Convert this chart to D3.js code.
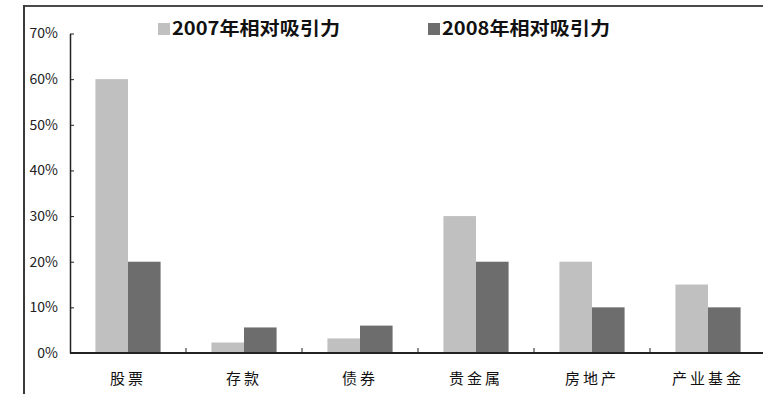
<!DOCTYPE html>
<html><head><meta charset="utf-8">
<script src="https://cdn.jsdelivr.net/npm/d3@7/dist/d3.min.js"></script>
<style>
html,body{margin:0;padding:0;background:#fff;}
svg{display:block;}
text{font-family:"Noto Sans CJK SC","Noto Sans",sans-serif;}
</style></head>
<body>
<svg id="c" width="763" height="394"></svg>
<script>
const categories = ["股票","存款","债券","贵金属","房地产","产业基金"];
const seriesNames = ["2007年相对吸引力","2008年相对吸引力"];
const values2007 = [0.60,0.023,0.032,0.30,0.20,0.15];
const values2008 = [0.20,0.056,0.060,0.20,0.10,0.10];
const yTicks = [0,0.1,0.2,0.3,0.4,0.5,0.6,0.7];
const colors = ["#c0c0c0","#6d6d6d"];

const svg = d3.select("#c");
// frame
svg.append("line").attr("x1",24).attr("x2",763).attr("y1",6).attr("y2",6).attr("stroke","#4a4a4a").attr("stroke-width",2);
svg.append("line").attr("x1",24).attr("x2",24).attr("y1",5).attr("y2",394).attr("stroke","#3a3a3a").attr("stroke-width",2);

const x0 = d3.scaleBand().domain(categories).range([70,766]).padding(0);
const x1 = d3.scaleBand().domain(seriesNames).range([0,x0.bandwidth()]).paddingInner(0).paddingOuter(0.78);
const y = d3.scaleLinear().domain([0,0.7]).range([353,33.5]);

// bars
const data = categories.map((c,i)=>({c, vals:[values2007[i],values2008[i]]}));
const g = svg.append("g");
data.forEach(d=>{
  d.vals.forEach((v,j)=>{
    g.append("rect")
      .attr("x",x0(d.c)+x1(seriesNames[j]))
      .attr("y",y(v))
      .attr("width",x1.bandwidth())
      .attr("height",y(0)-y(v))
      .attr("fill",colors[j]);
  });
});

// y axis
const yAxis = d3.axisLeft(y).tickValues(yTicks).tickFormat(d3.format(".0%")).tickSizeInner(-4).tickSizeOuter(0).tickPadding(12);
const ya = svg.append("g").attr("transform","translate(70,0)").call(yAxis);
ya.select(".domain").attr("stroke","#222").attr("stroke-width",1.5);
ya.selectAll(".tick line").attr("stroke","#222");
ya.selectAll(".tick text").attr("font-size",14).attr("fill","#222").attr("x",-12);

// x axis
const xa = svg.append("g").attr("transform","translate(0,353)");
xa.append("line").attr("x1",70).attr("x2",763).attr("stroke","#222").attr("stroke-width",2);
categories.slice(1).forEach(c=>{
  xa.append("line").attr("x1",x0(c)).attr("x2",x0(c)).attr("y1",0).attr("y2",-5).attr("stroke","#222");
});
categories.forEach(c=>{
  xa.append("text").attr("x",x0(c)+x0.bandwidth()/2).attr("y",31)
    .attr("text-anchor","middle").attr("font-size",15).attr("letter-spacing",3)
    .attr("fill","#111").text(c);
});

// legend
const legendX = [158,428];
seriesNames.forEach((s,i)=>{
  svg.append("rect").attr("x",legendX[i]).attr("y",23).attr("width",12).attr("height",12).attr("fill",colors[i]);
  svg.append("text").attr("x",legendX[i]+14).attr("y",35).attr("font-size",18).attr("font-weight","bold")
    .attr("fill","#111").attr("textLength",168).attr("lengthAdjust","spacingAndGlyphs").text(s);
});
</script>
</body></html>
